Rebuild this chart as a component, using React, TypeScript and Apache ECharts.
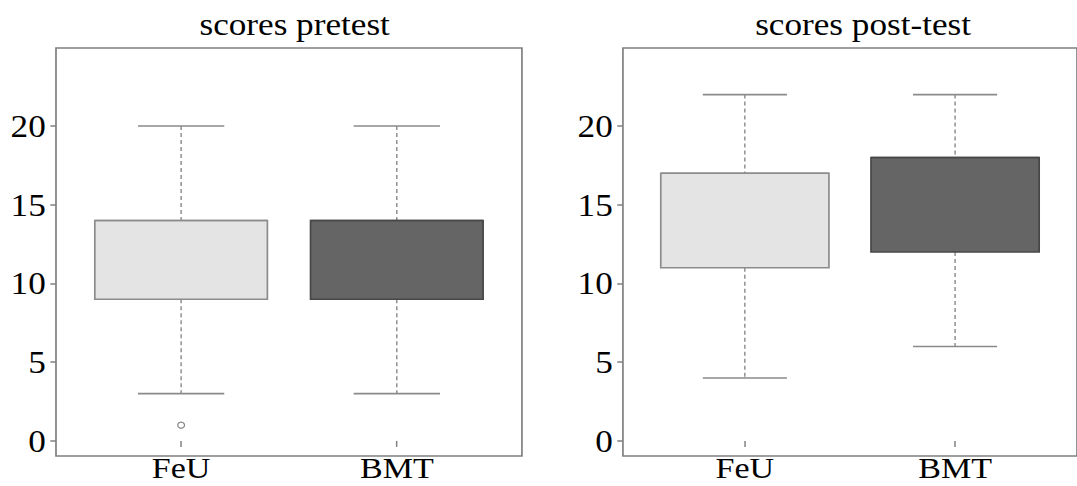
import React, { useEffect, useRef } from "react";
import * as echarts from "echarts";

// Groups compared in each panel
const groups = ["FeU", "BMT"];
const panelTitles = ["scores pretest", "scores post-test"];

// Five-number summaries: [min, q1, median, q3, max]
const pretestFeU = [3, 9, 14, 14, 20];
const pretestBMT = [3, 9, 14, 14, 20];
const posttestFeU = [4, 11, 17, 17, 22];
const posttestBMT = [6, 12, 18, 18, 22];

// Outliers: [group position, score]
const pretestOutliers = [[1, 1]];
const posttestOutliers: number[][] = [];

const yTicks = [0, 5, 10, 15, 20];
const groupTicks = [1, 2];

const boxFills = ["#e4e4e4", "#656565"];
const boxBorders = ["#8c8c8c", "#474747"];
const FONT = "'Liberation Serif', 'Times New Roman', serif";

// The figure is laid out in a narrower frame and widened horizontally
const STRETCH = 1.135;
const PAGE_W = 1077;
const PAGE_H = 486;
const FRAME_W = Math.round(PAGE_W / STRETCH);

const panels = [
  { title: panelTitles[0], boxes: [pretestFeU, pretestBMT], outliers: pretestOutliers, left: 56, width: 466 },
  { title: panelTitles[1], boxes: [posttestFeU, posttestBMT], outliers: posttestOutliers, left: 623, width: 469 },
];

const renderBox = (params: any, api: any) => {
  const x = api.value(0);
  const lo = api.value(1);
  const q1 = api.value(2);
  const med = api.value(3);
  const q3 = api.value(4);
  const hi = api.value(5);
  const gi = api.value(6);
  const boxTL = api.coord([x - 0.4, q3]);
  const boxBR = api.coord([x + 0.4, q1]);
  const cTop = api.coord([x, hi]);
  const cBot = api.coord([x, lo]);
  const capL = api.coord([x - 0.2, hi])[0];
  const capR = api.coord([x + 0.2, hi])[0];
  const medL = api.coord([x - 0.4, med]);
  const medR = api.coord([x + 0.4, med]);
  const whisker = { stroke: "#7a7a7a", lineWidth: 1.1, lineDash: [4, 3] };
  const cap = { stroke: "#8a8a8a", lineWidth: 1.6 };
  return {
    type: "group",
    children: [
      { type: "line", shape: { x1: cTop[0], y1: cTop[1], x2: cTop[0], y2: boxTL[1] }, style: whisker },
      { type: "line", shape: { x1: cBot[0], y1: boxBR[1], x2: cBot[0], y2: cBot[1] }, style: whisker },
      { type: "line", shape: { x1: capL, y1: cTop[1], x2: capR, y2: cTop[1] }, style: cap },
      { type: "line", shape: { x1: capL, y1: cBot[1], x2: capR, y2: cBot[1] }, style: cap },
      {
        type: "rect",
        shape: { x: boxTL[0], y: boxTL[1], width: boxBR[0] - boxTL[0], height: boxBR[1] - boxTL[1] },
        style: { fill: boxFills[gi], stroke: boxBorders[gi], lineWidth: 1.5 },
      },
      { type: "line", shape: { x1: medL[0], y1: medL[1], x2: medR[0], y2: medR[1] }, style: { stroke: boxBorders[gi], lineWidth: 1.5 } },
    ],
  };
};

export default function App() {
  const ref = useRef<HTMLDivElement>(null);

  useEffect(() => {
    if (!ref.current) return;
    const chart = echarts.init(ref.current, undefined, { renderer: "svg" });

    const grids: any[] = [];
    const xAxes: any[] = [];
    const yAxes: any[] = [];
    const titles: any[] = [];
    const series: any[] = [];

    panels.forEach((p, i) => {
      const left = p.left / STRETCH;
      const width = p.width / STRETCH;
      grids.push({
        left,
        top: 48,
        width,
        height: 408,
        show: true,
        borderColor: "#808080",
        borderWidth: 1.5,
        backgroundColor: "transparent",
      });
      titles.push({
        text: p.title,
        left: left + width / 2,
        top: 4,
        textAlign: "center",
        textStyle: { fontFamily: FONT, fontSize: 31, fontWeight: "normal", color: "#000" },
      });
      xAxes.push({
        type: "value",
        gridIndex: i,
        min: 0.42,
        max: 2.58,
        axisLine: { show: false },
        splitLine: { show: false },
        axisTick: { show: true, customValues: groupTicks, length: 6, lineStyle: { color: "#808080", width: 1.3 } },
        axisLabel: {
          customValues: groupTicks,
          formatter: (v: number) => groups[Math.round(v) - 1] ?? "",
          fontFamily: FONT,
          fontSize: 30,
          lineHeight: 22,
          color: "#000",
          margin: 1,
        },
      });
      yAxes.push({
        type: "value",
        gridIndex: i,
        min: -0.96,
        max: 24.96,
        axisLine: { show: false },
        splitLine: { show: false },
        axisTick: { show: true, customValues: yTicks, length: 5, lineStyle: { color: "#808080", width: 1.5 } },
        axisLabel: {
          customValues: yTicks,
          fontFamily: FONT,
          fontSize: 31,
          color: "#000",
          margin: 9,
        },
      });
      series.push({
        type: "custom",
        xAxisIndex: i,
        yAxisIndex: i,
        renderItem: renderBox,
        encode: { x: 0, y: [1, 2, 3, 4, 5] },
        data: p.boxes.map((b, gi) => [groupTicks[gi], ...b, gi]),
        z: 2,
      });
      series.push({
        type: "scatter",
        xAxisIndex: i,
        yAxisIndex: i,
        symbol: "circle",
        symbolSize: 6,
        itemStyle: { color: "#ffffff", borderColor: "#666666", borderWidth: 1.1 },
        data: p.outliers,
        z: 3,
      });
    });

    chart.setOption({
      animation: false,
      backgroundColor: "#ffffff",
      title: titles,
      grid: grids,
      xAxis: xAxes,
      yAxis: yAxes,
      series,
    });

    return () => chart.dispose();
  }, []);

  return (
    <div
      ref={ref}
      style={{
        position: "absolute",
        left: 0,
        top: 0,
        width: FRAME_W,
        height: PAGE_H,
        transform: `scaleX(${PAGE_W / FRAME_W})`,
        transformOrigin: "0 0",
      }}
    />
  );
}
